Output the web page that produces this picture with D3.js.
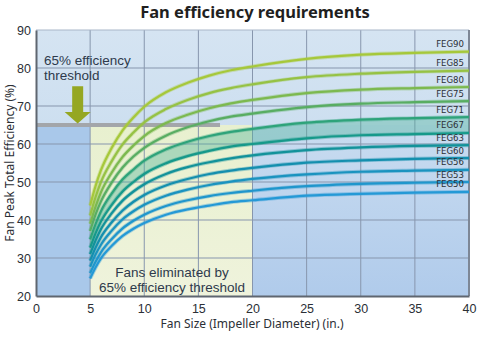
<!DOCTYPE html>
<html><head><meta charset="utf-8">
<script src="https://cdn.jsdelivr.net/npm/d3@7"></script>
<style>html,body{margin:0;padding:0;background:#fff;}svg{display:block;font-family:"Liberation Sans",Arial,sans-serif;}</style>
</head><body><svg id="c" width="485" height="350"></svg>
<script>
const sizes = [5, 5.5, 6, 7, 8, 9, 10, 12, 14, 16, 18, 20, 25, 30, 35, 40];
const grades = ["FEG90","FEG85","FEG80","FEG75","FEG71","FEG67","FEG63","FEG60","FEG56","FEG53","FEG50"];
const FEG90 = [43.8, 48.9, 53.1, 59.0, 63.6, 67.0, 69.8, 73.6, 76.1, 78.0, 79.4, 80.4, 82.4, 83.5, 84.0, 84.3];
const FEG85 = [41.2, 46.0, 50.0, 55.5, 59.9, 63.0, 65.7, 69.2, 71.6, 73.4, 74.7, 75.7, 77.6, 78.5, 79.0, 79.3];
const FEG80 = [39.0, 43.5, 47.3, 52.5, 56.6, 59.6, 62.1, 65.5, 67.7, 69.4, 70.7, 71.6, 73.4, 74.3, 74.7, 75.0];
const FEG75 = [37.1, 41.4, 44.9, 49.9, 53.8, 56.7, 59.0, 62.2, 64.4, 66.0, 67.2, 68.0, 69.7, 70.6, 71.0, 71.3];
const FEG71 = [34.9, 38.9, 42.3, 47.0, 50.7, 53.3, 55.6, 58.6, 60.6, 62.1, 63.2, 64.0, 65.6, 66.4, 66.8, 67.1];
const FEG67 = [32.7, 36.5, 39.6, 44.0, 47.5, 50.0, 52.1, 54.9, 56.8, 58.2, 59.3, 60.0, 61.5, 62.3, 62.6, 62.9];
const FEG63 = [31.0, 34.6, 37.6, 41.8, 45.1, 47.5, 49.4, 52.1, 53.9, 55.2, 56.2, 57.0, 58.4, 59.1, 59.5, 59.7];
const FEG60 = [29.3, 32.7, 35.5, 39.4, 42.5, 44.8, 46.6, 49.1, 50.8, 52.1, 53.0, 53.7, 55.1, 55.7, 56.1, 56.3];
const FEG56 = [27.7, 30.9, 33.5, 37.2, 40.2, 42.3, 44.0, 46.4, 48.0, 49.2, 50.1, 50.8, 52.0, 52.7, 53.0, 53.2];
const FEG53 = [26.0, 29.0, 31.5, 35.0, 37.8, 39.8, 41.4, 43.7, 45.2, 46.3, 47.1, 47.7, 48.9, 49.5, 49.8, 50.0];
const FEG50 = [24.6, 27.5, 29.9, 33.2, 35.8, 37.7, 39.2, 41.4, 42.8, 43.8, 44.7, 45.2, 46.4, 46.9, 47.2, 47.4];
const seriesValues = [FEG90, FEG85, FEG80, FEG75, FEG71, FEG67, FEG63, FEG60, FEG56, FEG53, FEG50];
const xTicks = [0, 5, 10, 15, 20, 25, 30, 35, 40];
const yTicks = [20, 30, 40, 50, 60, 70, 80, 90];
const threshold = 65;

const colors = ["#a6c83a","#96c244","#7cb94f","#58ad62","#2ea37a","#16998a","#12929a","#148fae","#1a93bf","#1f96cc","#2499d6"];

const svg = d3.select("#c");
const x = d3.scaleLinear().domain([0, 40]).range([36, 469]);
const y = d3.scaleLinear().domain([20, 90]).range([296, 30]);

const defs = svg.append("defs");
const g1 = defs.append("linearGradient").attr("id","rightGrad").attr("x1",0).attr("y1",0).attr("x2",0).attr("y2",1);
g1.append("stop").attr("offset","0%").attr("stop-color","#c9dcf0");
g1.append("stop").attr("offset","100%").attr("stop-color","#b0cbeb");
const g2 = defs.append("linearGradient").attr("id","topGrad").attr("x1",0).attr("y1",0).attr("x2",0).attr("y2",1);
g2.append("stop").attr("offset","0%").attr("stop-color","#d5e4f2");
g2.append("stop").attr("offset","100%").attr("stop-color","#cddff0");
const g3 = defs.append("linearGradient").attr("id","yelGrad").attr("x1",0).attr("y1",0).attr("x2",0).attr("y2",1);
g3.append("stop").attr("offset","0%").attr("stop-color","#e8f0cf");
g3.append("stop").attr("offset","100%").attr("stop-color","#eff3dc");

// background regions
svg.append("rect").attr("x", x(0)).attr("y", y(90)).attr("width", x(40)-x(0)).attr("height", y(threshold)-y(90)).attr("fill","url(#topGrad)");
svg.append("rect").attr("x", x(0)).attr("y", y(threshold)).attr("width", x(5)-x(0)).attr("height", y(20)-y(threshold)).attr("fill","#a9c8ea");
svg.append("rect").attr("x", x(5)).attr("y", y(threshold)).attr("width", x(20)-x(5)).attr("height", y(20)-y(threshold)).attr("fill","url(#yelGrad)");
svg.append("rect").attr("x", x(20)).attr("y", y(threshold)).attr("width", x(40)-x(20)).attr("height", y(20)-y(threshold)).attr("fill","url(#rightGrad)");

// grid
const grid = svg.append("g").attr("stroke","#8796ad").attr("stroke-width",1);
xTicks.filter(t => t > 0 && t < 40).forEach(t => grid.append("line").attr("x1", x(t)).attr("x2", x(t)).attr("y1", y(90)).attr("y2", y(20)));
yTicks.filter(t => t > 20).forEach(t => grid.append("line").attr("x1", x(0)).attr("x2", x(40)).attr("y1", y(t)).attr("y2", y(t)).attr("stroke", t===90 ? "#a9b6c8" : "#8796ad"));
svg.append("line").attr("x1", x(40)).attr("x2", x(40)).attr("y1", y(90)).attr("y2", y(20)).attr("stroke","#7d8796").attr("stroke-width",2);

// threshold line
svg.append("line").attr("x1", x(0)).attr("x2", x(17)).attr("y1", y(threshold)).attr("y2", y(threshold)).attr("stroke","#a3a6aa").attr("stroke-width",4);

// band between FEG71 and FEG67
const area = d3.area().x((d,i)=>x(sizes[i])).y0((d,i)=>y(FEG67[i])).y1((d,i)=>y(FEG71[i])).curve(d3.curveMonotoneX);
svg.append("path").datum(FEG71).attr("d", area).attr("fill","#4fb39a").attr("opacity",0.4);

// curves
const line = d3.line().x((d,i)=>x(sizes[i])).y(d=>y(d)).curve(d3.curveMonotoneX);
seriesValues.forEach((vals,k) => {
  svg.append("path").datum(vals).attr("d", line).attr("fill","none").attr("stroke", colors[k]).attr("stroke-width",4).attr("opacity",0.35);
  svg.append("path").datum(vals).attr("d", line).attr("fill","none").attr("stroke", colors[k]).attr("stroke-width",2.2);
});

// series labels
seriesValues.forEach((vals,k) => {
  svg.append("text").attr("x", 464).attr("y", y(vals[vals.length-1]) - 4.5)
    .attr("text-anchor","end").attr("font-size",9.5).attr("font-family","'DejaVu Sans Condensed','Liberation Sans',sans-serif")
    .attr("fill","#2b2f36").text(grades[k]);
});

// axes
const xAxis = svg.append("g").attr("transform", `translate(0,${y(20)})`).call(d3.axisBottom(x).tickValues(xTicks).tickSize(0).tickPadding(8));
const yAxis = svg.append("g").attr("transform", `translate(${x(0)},0)`).call(d3.axisLeft(y).tickValues(yTicks).tickSize(0).tickPadding(5));
[xAxis, yAxis].forEach(a => {
  a.select(".domain").attr("stroke","#5f6670").attr("stroke-width",2);
  a.selectAll("text").attr("font-size",12.5).attr("fill","#2b2f36").attr("font-family","'Liberation Sans',Arial,sans-serif");
});

// arrow
const ax = 3.85;
const arrowPts = [
  [x(ax)-5.5, y(75.2)], [x(ax)+5.5, y(75.2)], [x(ax)+5.5, y(68.4)], [x(ax)+13, y(68.4)],
  [x(ax), y(65.4)], [x(ax)-13, y(68.4)], [x(ax)-5.5, y(68.4)]
];
svg.append("polygon").attr("points", arrowPts.map(p=>p.join(",")).join(" ")).attr("fill","#95a722");

// annotations
const ann = svg.append("g").attr("font-size",13.5).attr("fill","#2e3a4c");
ann.append("text").attr("x",44).attr("y",65).text("65% efficiency");
ann.append("text").attr("x",44).attr("y",80).text("threshold");
ann.append("text").attr("x",172).attr("y",277).attr("text-anchor","middle").text("Fans eliminated by");
ann.append("text").attr("x",172).attr("y",292).attr("text-anchor","middle").text("65% efficiency threshold");

// titles
svg.append("text").attr("x",255).attr("y",18).attr("text-anchor","middle").attr("font-size",16.5).attr("font-weight","bold").attr("font-family","'Noto Sans','Open Sans',sans-serif").attr("fill","#1f1f1f").text("Fan efficiency requirements");
svg.append("text").attr("x",252).attr("y",328).attr("text-anchor","middle").attr("font-size",12).attr("fill","#2b2f36").attr("font-family","'Noto Sans',sans-serif").text("Fan Size (Impeller Diameter) (in.)");
svg.append("text").attr("transform","translate(14,163) rotate(-90)").attr("text-anchor","middle").attr("font-size",12).attr("fill","#2b2f36").attr("font-family","'Noto Sans',sans-serif").text("Fan Peak Total Efficiency (%)");
</script></body></html>
